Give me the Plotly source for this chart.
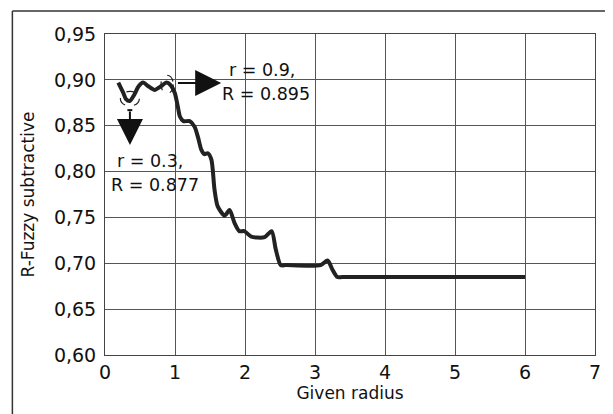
import plotly.graph_objects as go

radius = [0.19, 0.26, 0.30, 0.355, 0.42, 0.48, 0.545, 0.62, 0.71, 0.80, 0.877, 0.94, 0.996, 1.04, 1.07,
          1.12, 1.21, 1.28, 1.33, 1.375, 1.42, 1.47, 1.52, 1.565, 1.61, 1.71, 1.78, 1.85, 1.92, 1.99,
          2.09, 2.28, 2.38, 2.44, 2.51, 2.585, 3.08, 3.18, 3.25, 3.32, 3.39, 6.0]
r_fuzzy = [0.897, 0.886, 0.879, 0.877, 0.884, 0.893, 0.897, 0.893, 0.889, 0.893, 0.897, 0.894, 0.886, 0.871, 0.860,
           0.855, 0.855, 0.849, 0.837, 0.824, 0.819, 0.820, 0.813, 0.780, 0.762, 0.752, 0.758, 0.744, 0.735, 0.735,
           0.729, 0.7285, 0.735, 0.715, 0.698, 0.698, 0.698, 0.703, 0.693, 0.685, 0.685, 0.685]

x_ticks = [0, 1, 2, 3, 4, 5, 6, 7]
y_ticks = [0.60, 0.65, 0.70, 0.75, 0.80, 0.85, 0.90, 0.95]
y_tick_text = ["0,60", "0,65", "0,70", "0,75", "0,80", "0,85", "0,90", "0,95"]

FONT = "DejaVu Sans"

fig = go.Figure()
fig.add_trace(go.Scatter(x=radius, y=r_fuzzy, mode="lines",
                         line=dict(color="#222222", width=4, shape="spline", smoothing=0.7),
                         showlegend=False, hoverinfo="skip"))

axis_common = dict(showgrid=True, gridcolor="#555555", gridwidth=1, zeroline=False,
                   showline=True, linecolor="#444444", linewidth=1, mirror=True,
                   ticks="", tickfont=dict(family=FONT, size=19, color="#111111"))

fig.update_xaxes(range=[0, 7], tickvals=x_ticks, ticktext=[str(t) for t in x_ticks],
                 title=dict(text="Given radius", font=dict(family=FONT, size=17, color="#111111"), standoff=2),
                 **axis_common)
fig.update_yaxes(range=[0.60, 0.95], tickvals=y_ticks, ticktext=y_tick_text, ticklabelstandoff=4,
                 title=dict(text="R-Fuzzy subtractive", font=dict(family=FONT, size=17, color="#111111"), standoff=14),
                 **axis_common)

# outer frame (partly outside view)
fig.add_shape(type="line", xref="paper", yref="paper", x0=-0.189, x1=1.2, y0=1.0717, y1=1.0717,
              line=dict(color="#333333", width=1.5))
fig.add_shape(type="line", xref="paper", yref="paper", x0=-0.189, x1=-0.189, y0=1.0717, y1=-0.3,
              line=dict(color="#333333", width=1.5))

# dashed markers around min and max
fig.add_shape(type="circle", xref="x", yref="y", x0=0.22, x1=0.49, y0=0.8715, y1=0.8875,
              line=dict(color="#222222", width=1.2, dash="dash"))
fig.add_shape(type="circle", xref="x", yref="y", x0=0.80, x1=0.975, y0=0.885, y1=0.905,
              line=dict(color="#222222", width=1.2, dash="dash"))

# arrows
fig.add_annotation(x=0.356, y=0.829, ax=0.356, ay=0.867, xref="x", yref="y", axref="x", ayref="y",
                   showarrow=True, arrowhead=2, arrowsize=2.6, arrowwidth=2, arrowcolor="#111111", text="")
fig.add_shape(type="line", xref="x", yref="y", x0=0.32, x1=0.39, y0=0.867, y1=0.867,
              line=dict(color="#111111", width=2))
fig.add_annotation(x=1.66, y=0.8967, ax=1.02, ay=0.8967, xref="x", yref="y", axref="x", ayref="y",
                   showarrow=True, arrowhead=2, arrowsize=2.6, arrowwidth=2, arrowcolor="#111111", text="")

ann_font = dict(family=FONT, size=17.5, color="#111111")
for txt, xx, yy in [("r = 0.9,", 1.74, 0.9112), ("R = 0.895", 1.64, 0.8847),
                    ("r = 0.3,", 0.14, 0.8111), ("R = 0.877", 0.05, 0.7857)]:
    fig.add_annotation(x=xx, y=yy, xref="x", yref="y", text=txt, showarrow=False,
                       xanchor="left", yanchor="middle", font=ann_font)

# page body has an 8px default margin; size the figure so the plot lands where the reference has it
fig.update_layout(width=605, height=406, margin=dict(l=97, r=16, t=26, b=59),
                  paper_bgcolor="white", plot_bgcolor="white")

fig.write_html("out.html")
